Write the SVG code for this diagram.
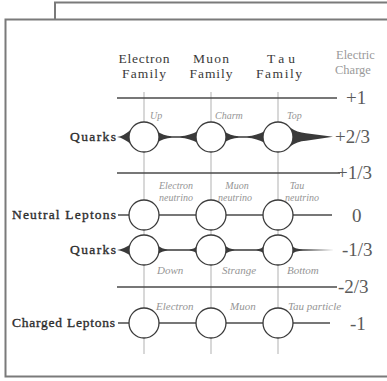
<svg xmlns="http://www.w3.org/2000/svg" width="387" height="381" viewBox="0 0 387 381">
  <style>
    .frame { fill: #ffffff; stroke: #7a7a7a; stroke-width: 2; }
    .rule { stroke: #4a4a4a; stroke-width: 1.3; fill: none; }
    .drop { stroke: #a8a8a8; stroke-width: 0.9; fill: none; }
    .flare { fill: #3a3a3a; stroke: none; }
    .node { fill: #ffffff; stroke: #3a3a3a; stroke-width: 1.3; }
    .head { font-family: "Liberation Serif", "Times New Roman", serif; font-size: 13.5px; fill: #3a3a3a; }
    .axis { font-family: "Liberation Serif", "Times New Roman", serif; font-size: 12.5px; fill: #9a9a9a; }
    .row { font-family: "Liberation Serif", "Times New Roman", serif; font-size: 13.5px; fill: #2e2e2e; stroke: #2e2e2e; stroke-width: 0.35; }
    .charge { font-family: "Liberation Serif", "Times New Roman", serif; font-size: 19px; fill: #5a5a5a; }
    .name { font-family: "Liberation Serif", "Times New Roman", serif; font-size: 10px; font-style: italic; fill: #959595; }
    .name-lg { font-size: 11px; }
  </style>

  <!-- stacked card frames -->
  <path class="frame" d="M55,19 V2.5 H400" fill="none"/>
  <rect class="frame" x="5.5" y="19.5" width="400" height="357"/>

  <!-- column headers -->
  <g id="header-electron">
    <text class="head" x="144" y="63" text-anchor="middle" textLength="51" lengthAdjust="spacing">Electron</text>
    <text class="head" x="144" y="78" text-anchor="middle" textLength="44" lengthAdjust="spacing">Family</text>
  </g>
  <g id="header-muon">
    <text class="head" x="211" y="63" text-anchor="middle" textLength="36" lengthAdjust="spacing">Muon</text>
    <text class="head" x="211" y="78" text-anchor="middle" textLength="43" lengthAdjust="spacing">Family</text>
  </g>
  <g id="header-tau">
    <text class="head" x="281" y="63" text-anchor="middle" textLength="28" lengthAdjust="spacing">Tau</text>
    <text class="head" x="279" y="78" text-anchor="middle" textLength="46" lengthAdjust="spacing">Family</text>
  </g>
  <g id="header-charge">
    <text class="axis" x="336" y="59">Electric</text>
    <text class="axis" x="335" y="74">Charge</text>
  </g>

  <!-- connectors: family drop lines, charge rules, row links -->
  <g id="connectors">
    <line class="drop" x1="144" y1="92" x2="144" y2="354"/>
    <line class="drop" x1="211" y1="92" x2="211" y2="354"/>
    <line class="drop" x1="278" y1="92" x2="278" y2="354"/>

    <line class="rule" x1="117" y1="98" x2="337" y2="98"/>
    <line class="rule" x1="117" y1="173" x2="340" y2="173"/>
    <line class="rule" x1="117" y1="287" x2="337" y2="287"/>

    <!-- upper quark row: wedges growing toward +2/3 -->
    <path class="flare" d="M117,137 Q124,136 131,129.5 L131,144.5 Q124,138 117,137 Z"/>
    <path class="flare" d="M157,131 Q163,136 172,136.3 L180,136.3 Q190,135.6 198,131 L198,143 Q190,138.4 180,137.7 L172,137.7 Q163,138 157,143 Z"/>
    <path class="flare" d="M224,131 Q230,136 239,136.3 L247,136.3 Q257,135.6 265,131 L265,143 Q257,138.4 247,137.7 L239,137.7 Q230,138 224,143 Z"/>
    <path class="flare" d="M290,127.5 Q297,132.5 306,133.2 L333,136.8 L306,140.8 Q297,141.5 290,146.5 Z"/>

    <!-- neutral lepton row -->
    <line class="rule" x1="118" y1="215" x2="332" y2="215"/>

    <!-- lower quark row: thin links fading toward -1/3 -->
    <path class="flare" d="M117,250 Q124,249 131,244 L131,256 Q124,251 117,250 Z"/>
    <path class="flare" d="M157,245 Q162,249.2 168,249.2 L189,249.2 Q195,249.2 198,245 L198,255 Q195,250.8 189,250.8 L168,250.8 Q162,250.8 157,255 Z"/>
    <path class="flare" d="M224,245 Q229,249.2 235,249.2 L256,249.2 Q262,249.2 265,245 L265,255 Q262,250.8 256,250.8 L235,250.8 Q229,250.8 224,255 Z"/>
    <path class="flare" d="M290,245 Q295,249.2 303,249.3 L334,249.9 L334,250.1 L303,250.7 Q295,250.8 290,255 Z"/>

    <!-- charged lepton row -->
    <line class="rule" x1="118" y1="323" x2="330" y2="323"/>
  </g>

  <!-- row labels -->
  <g id="label-quarks-up"><text class="row" x="116" y="141" text-anchor="end" textLength="46" lengthAdjust="spacing">Quarks</text></g>
  <g id="label-neutral"><text class="row" x="116" y="219" text-anchor="end" textLength="104" lengthAdjust="spacing">Neutral Leptons</text></g>
  <g id="label-quarks-down"><text class="row" x="116" y="254" text-anchor="end" textLength="46" lengthAdjust="spacing">Quarks</text></g>
  <g id="label-charged"><text class="row" x="115" y="327" text-anchor="end" textLength="103" lengthAdjust="spacing">Charged Leptons</text></g>

  <!-- particles -->
  <g id="up"><circle class="node" cx="144" cy="137" r="15"/><text class="name" x="150" y="119">Up</text></g>
  <g id="charm"><circle class="node" cx="211" cy="137" r="15"/><text class="name" x="215" y="119">Charm</text></g>
  <g id="top"><circle class="node" cx="278" cy="137" r="15"/><text class="name" x="287" y="119">Top</text></g>

  <g id="electron-neutrino"><circle class="node" cx="144" cy="215" r="15"/>
    <text class="name" x="176" y="189" text-anchor="middle">Electron</text>
    <text class="name" x="176" y="201" text-anchor="middle">neutrino</text></g>
  <g id="muon-neutrino"><circle class="node" cx="211" cy="215" r="15"/>
    <text class="name" x="237" y="189" text-anchor="middle">Muon</text>
    <text class="name" x="235" y="201" text-anchor="middle">neutrino</text></g>
  <g id="tau-neutrino"><circle class="node" cx="278" cy="215" r="15"/>
    <text class="name" x="297" y="189" text-anchor="middle">Tau</text>
    <text class="name" x="302" y="201" text-anchor="middle">neutrino</text></g>

  <g id="down"><circle class="node" cx="144" cy="250" r="15"/><text class="name name-lg" x="157" y="274">Down</text></g>
  <g id="strange"><circle class="node" cx="211" cy="250" r="15"/><text class="name name-lg" x="222" y="274">Strange</text></g>
  <g id="bottom"><circle class="node" cx="278" cy="250" r="15"/><text class="name name-lg" x="287" y="274">Bottom</text></g>

  <g id="electron"><circle class="node" cx="144" cy="323" r="15"/><text class="name name-lg" x="156" y="310">Electron</text></g>
  <g id="muon"><circle class="node" cx="211" cy="323" r="15"/><text class="name name-lg" x="230" y="310">Muon</text></g>
  <g id="tau"><circle class="node" cx="278" cy="323" r="15"/><text class="name name-lg" x="288" y="310">Tau particle</text></g>

  <!-- charge scale -->
  <g id="charge-values">
    <text class="charge" x="346" y="104">+1</text>
    <text class="charge" x="335" y="143">+2/3</text>
    <text class="charge" x="337" y="179">+1/3</text>
    <text class="charge" x="352" y="222">0</text>
    <text class="charge" x="342" y="256">-1/3</text>
    <text class="charge" x="338" y="293">-2/3</text>
    <text class="charge" x="350" y="330">-1</text>
  </g>
</svg>
